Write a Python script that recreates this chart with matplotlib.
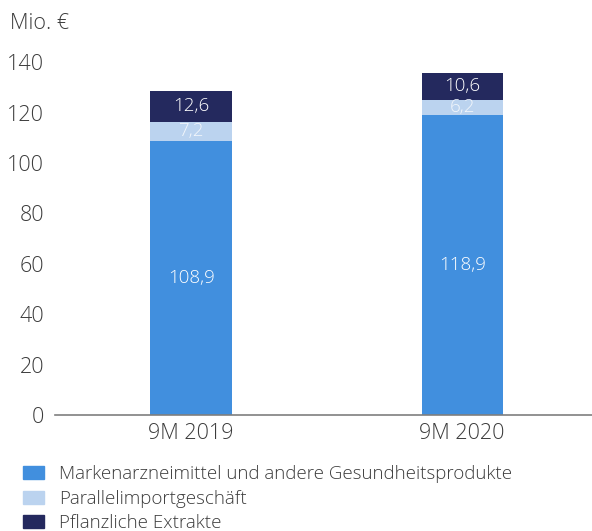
import matplotlib
matplotlib.use("Agg")
import matplotlib.pyplot as plt
from matplotlib.patches import Patch

plt.rcParams['font.family'] = ['Open Sans', 'DejaVu Sans']

categories = ['9M 2019', '9M 2020']
series_names = ['Markenarzneimittel und andere Gesundheitsprodukte',
                'Parallelimportgeschäft',
                'Pflanzliche Extrakte']
marken = [108.9, 118.9]
parallel = [7.2, 6.2]
pflanzlich = [12.6, 10.6]
colors = ['#418fde', '#bbd3ef', '#24295e']
label_colors = ['white', '#f2f6fb', 'white']
yticks = [0, 20, 40, 60, 80, 100, 120, 140]

text_color = '#3c3c3c'

fig = plt.figure(figsize=(5.92, 5.31), dpi=100)
ax = fig.add_axes([0.093, 0.2185, 0.907, 0.6645])

x = list(range(len(categories)))
bottom = [0.0] * len(categories)
for vals, col, lcol in zip([marken, parallel, pflanzlich], colors, label_colors):
    bars = ax.bar(x, vals, width=0.30, bottom=bottom, color=col, zorder=2)
    for b, v, b0 in zip(bars, vals, bottom):
        ax.text(b.get_x() + b.get_width() / 2, b0 + v / 2,
                f'{v:.1f}'.replace('.', ','), ha='center', va='center',
                color=lcol, fontsize=13.5, fontweight='light')
    bottom = [b0 + v for b0, v in zip(bottom, vals)]

ax.set_xlim(-0.502, 1.479)
ax.set_ylim(0, 140)
ax.set_yticks(yticks)
ax.set_xticks(x)
ax.set_xticklabels(categories)
ax.tick_params(axis='both', length=0, labelsize=15.5, colors=text_color)
ax.tick_params(axis='y', pad=8)
ax.tick_params(axis='x', pad=6)
for lbl in ax.get_xticklabels() + ax.get_yticklabels():
    lbl.set_fontweight('light')
for s in ['top', 'right', 'left']:
    ax.spines[s].set_visible(False)
ax.spines['bottom'].set_color('#7f7f7f')
ax.spines['bottom'].set_linewidth(1.2)

fig.text(0.017, 0.955, 'Mio. €', fontsize=15.5, color=text_color,
         fontweight='light', va='center')

handles = [Patch(color=c) for c in colors]
fig.legend(handles, series_names, loc='upper left',
           bbox_to_anchor=(0.039, 0.124), frameon=False,
           labelcolor=text_color, handlelength=1.1, handleheight=0.7,
           handletextpad=0.8, labelspacing=0.35, borderpad=0, borderaxespad=0,
           prop={'weight': 'light', 'size': 13.5})

fig.savefig('out.png', dpi=100)
